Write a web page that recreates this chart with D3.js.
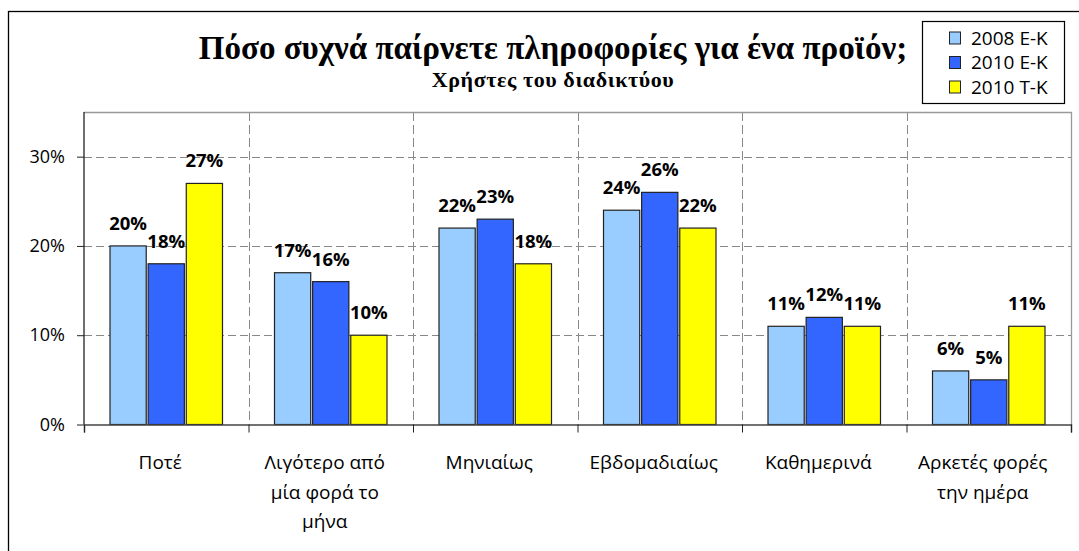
<!DOCTYPE html>
<head>
  <meta charset="utf-8">
  <script src="https://d3js.org/d3.v7.min.js"></script>
  <style>
    body { margin:0; background:#fff; }
    svg { display:block; }
    text { font-family: "Open Sans", "Noto Sans", sans-serif; }
    .ttl { font-family: "Liberation Serif", "DejaVu Serif", serif; font-weight: bold; }
  </style>
</head>
<body>
  <svg width="1079" height="551"></svg>
  <script>
    var categories = [['Ποτέ'], ['Λιγότερο από', 'μία φορά το', 'μήνα'], ['Μηνιαίως'],
                      ['Εβδομαδιαίως'], ['Καθημερινά'], ['Αρκετές φορές', 'την ημέρα']];
    var series = ['2008 Ε-Κ', '2010 Ε-Κ', '2010 Τ-Κ'];
    var v2008ek = [20, 17, 22, 24, 11, 6];
    var v2010ek = [18, 16, 23, 26, 12, 5];
    var v2010tk = [27, 10, 18, 22, 11, 11];
    var yTicks = [0, 10, 20, 30];
    var colors = ['#99ccff', '#3366ff', '#ffff00'];

    var values = [v2008ek, v2010ek, v2010tk];
    var margin = {top: 112, bottom: 126.5, left: 84, right: 8};
    var width = 1079, height = 551;
    var svg = d3.select('svg');

    // outer frame (cut off at right and bottom)
    svg.append('rect')
      .attr('x', 8.5).attr('y', 11.5)
      .attr('width', 1100).attr('height', 600)
      .attr('fill', 'none').attr('stroke', '#000').attr('stroke-width', 1.3);

    var idx = d3.range(categories.length);
    var x0 = d3.scaleBand()
      .domain(idx)
      .range([margin.left, width - margin.right]);
    var x1 = d3.scaleBand()
      .domain(d3.range(series.length))
      .range([26, x0.bandwidth() - 26])
      .paddingInner(0.05);
    var y = d3.scaleLinear()
      .domain([0, 35])
      .range([height - margin.bottom, margin.top]);

    var plotRight = width - margin.right;

    // gridlines
    svg.append('g').selectAll('line')
      .data(yTicks.slice(1))
      .enter().append('line')
      .attr('x1', margin.left).attr('x2', plotRight)
      .attr('y1', d => Math.round(y(d)) + 0.5).attr('y2', d => Math.round(y(d)) + 0.5)
      .attr('stroke', '#888').attr('stroke-dasharray', '8,4');
    svg.append('g').selectAll('line')
      .data(idx.slice(1))
      .enter().append('line')
      .attr('x1', d => Math.round(x0(d)) + 0.5).attr('x2', d => Math.round(x0(d)) + 0.5)
      .attr('y1', margin.top).attr('y2', y(0))
      .attr('stroke', '#888').attr('stroke-dasharray', '9,4');

    // plot border (top, right)
    svg.append('path')
      .attr('d', 'M' + margin.left + ',' + (margin.top + 0.5) + 'H' + (plotRight + 0.5) + 'V' + y(0))
      .attr('fill', 'none').attr('stroke', '#999').attr('stroke-width', 1.3);

    // bars
    var groups = svg.selectAll('g.grp')
      .data(idx)
      .enter().append('g')
      .attr('class', 'grp')
      .attr('transform', d => 'translate(' + x0(d) + ',0)');

    groups.selectAll('rect')
      .data(c => values.map((s, i) => ({s: i, v: s[c]})))
      .enter().append('rect')
      .attr('x', d => x1(d.s))
      .attr('y', d => y(d.v))
      .attr('width', x1.bandwidth())
      .attr('height', d => y(0) - y(d.v))
      .attr('fill', d => colors[d.s])
      .attr('stroke', '#222').attr('stroke-width', 1.2);

    groups.selectAll('text.lbl')
      .data(c => values.map((s, i) => ({s: i, v: s[c]})))
      .enter().append('text')
      .attr('class', 'lbl')
      .attr('x', d => x1(d.s) + x1.bandwidth() / 2)
      .attr('y', d => y(d.v) - 16)
      .attr('text-anchor', 'middle')
      .attr('font-size', 18.5).attr('font-weight', 'bold').attr('fill', '#000')
      .text(d => d.v + '%');

    // axes
    var yAxis = d3.axisLeft(y)
      .tickValues(yTicks)
      .tickSize(7)
      .tickFormat(d => d + '%');
    var gy = svg.append('g')
      .attr('transform', 'translate(' + margin.left + ',0)')
      .call(yAxis);
    gy.select('.domain').attr('stroke', '#222').attr('stroke-width', 1.3)
      .attr('d', 'M0,' + margin.top + 'V' + y(0));
    gy.selectAll('.tick line').attr('stroke', '#222');
    gy.selectAll('.tick text')
      .attr('x', -19).attr('font-size', 18).attr('fill', '#000')
      .attr('font-family', '"Open Sans", sans-serif');

    var xb = d3.scaleLinear().domain([0, categories.length]).range([margin.left, plotRight]);
    var xAxis = d3.axisBottom(xb)
      .tickValues(d3.range(categories.length + 1))
      .tickSize(8)
      .tickFormat('');
    var gx = svg.append('g')
      .attr('transform', 'translate(0,' + y(0) + ')')
      .call(xAxis);
    gx.select('.domain').attr('stroke', '#444').attr('stroke-width', 1.5);
    gx.selectAll('.tick line').attr('stroke', '#222');

    // category labels
    svg.append('g').selectAll('text')
      .data(idx)
      .enter().append('text')
      .attr('text-anchor', 'middle')
      .attr('font-size', 19).attr('fill', '#000')
      .attr('transform', d => 'translate(' + (x0(d) + x0.bandwidth() / 2 - 6) + ',469)')
      .each(function(d) {
        d3.select(this).selectAll('tspan')
          .data(categories[d])
          .enter().append('tspan')
          .attr('x', 0).attr('y', (t, i) => i * 29.5)
          .text(t => t);
      });

    // title
    svg.append('text').attr('class', 'ttl')
      .attr('x', 553).attr('y', 59)
      .attr('text-anchor', 'middle').attr('font-size', 33)
      .text('Πόσο συχνά παίρνετε πληροφορίες για ένα προϊόν;');
    svg.append('text').attr('class', 'ttl')
      .attr('x', 553).attr('y', 87)
      .attr('text-anchor', 'middle').attr('font-size', 22)
      .attr('letter-spacing', 0.6)
      .text('Χρήστες του διαδικτύου');

    // legend
    var lg = svg.append('g');
    lg.append('rect')
      .attr('x', 922.5).attr('y', 21.5).attr('width', 142).attr('height', 82)
      .attr('fill', '#fff').attr('stroke', '#000').attr('stroke-width', 1.2);
    var items = lg.selectAll('g.item')
      .data(series)
      .enter().append('g')
      .attr('transform', (d, i) => 'translate(949,' + (38 + i * 24.5) + ')');
    items.append('rect')
      .attr('x', 0.5).attr('y', -6).attr('width', 11).attr('height', 12)
      .attr('fill', (d, i) => colors[i]).attr('stroke', '#222');
    items.append('text')
      .attr('x', 22).attr('y', 6.5)
      .attr('font-size', 19).attr('fill', '#000')
      .text(d => d);
  </script>
</body>
